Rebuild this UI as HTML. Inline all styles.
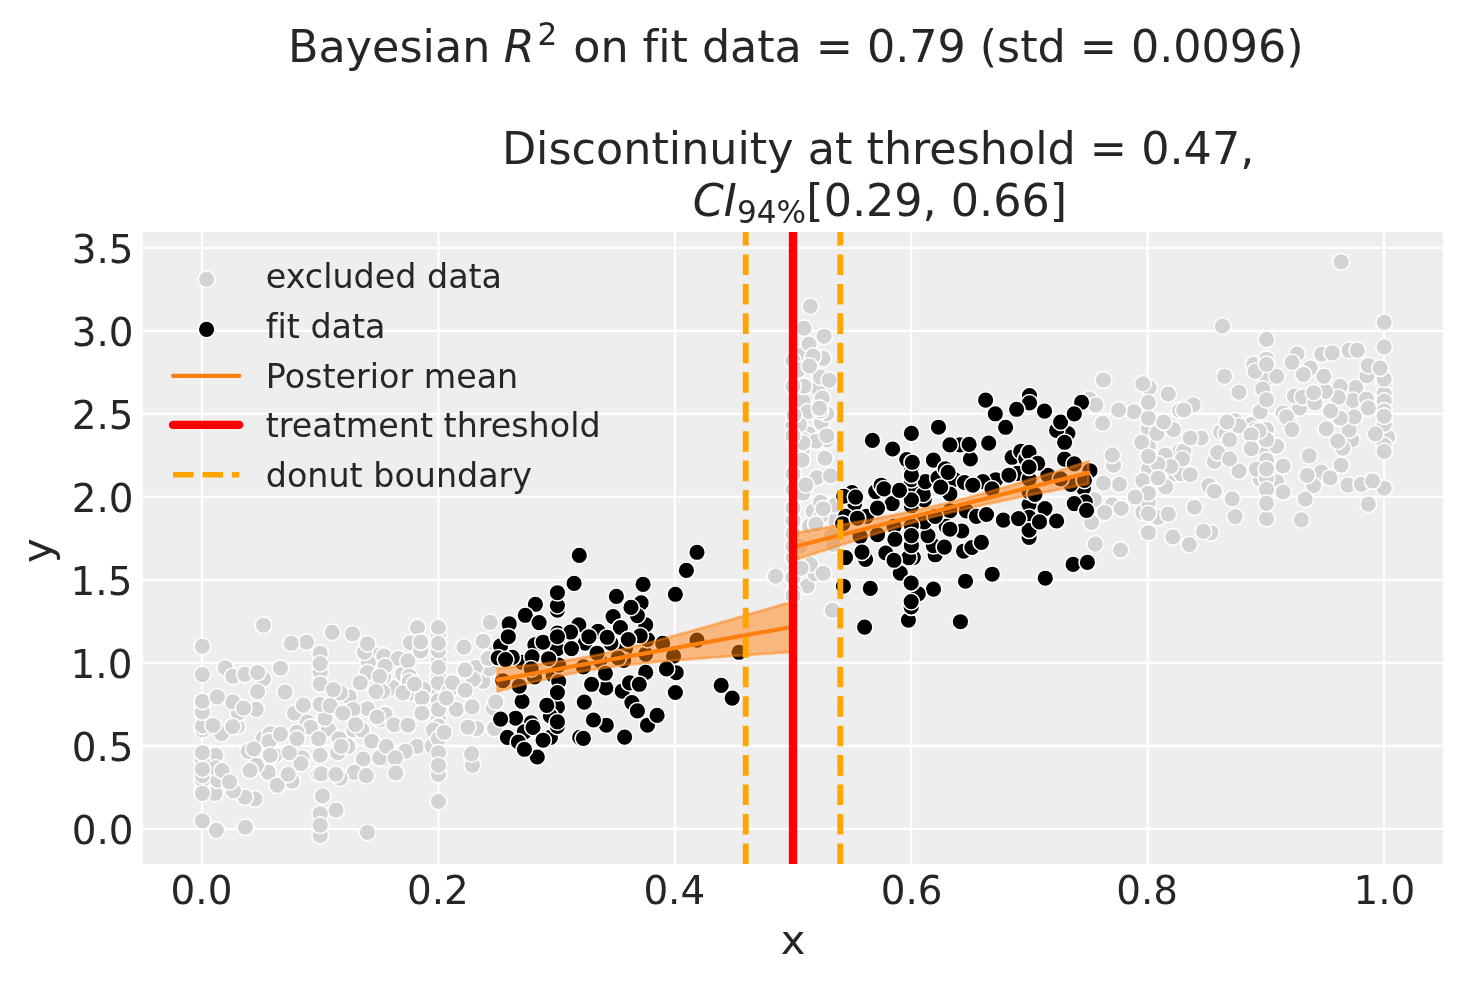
<!DOCTYPE html>
<html lang="en"><head><meta charset="utf-8"><title>Regression discontinuity (donut)</title>
<style>html,body{margin:0;padding:0;background:#fff}svg{display:block;will-change:transform}text{font-family:"DejaVu Sans","Liberation Sans",sans-serif;fill:#262626;font-variant-ligatures:none}.it{font-style:italic}.g circle{fill:#d3d3d3;stroke:#fff;stroke-width:1.58}.k circle{fill:#000;stroke:#fff;stroke-width:1.58}</style></head><body>
<svg width="1463" height="983" viewBox="0 0 1463 983">
<rect width="1463" height="983" fill="#fff"/>
<rect x="143" y="232" width="1300" height="632" fill="#eeeeee"/>
<defs><clipPath id="ax"><rect x="143" y="232" width="1300" height="632"/></clipPath></defs>
<g stroke="#fff" stroke-width="2.22" clip-path="url(#ax)">
<line x1="202.00" y1="232" x2="202.00" y2="864"/>
<line x1="438.40" y1="232" x2="438.40" y2="864"/>
<line x1="674.80" y1="232" x2="674.80" y2="864"/>
<line x1="911.20" y1="232" x2="911.20" y2="864"/>
<line x1="1147.60" y1="232" x2="1147.60" y2="864"/>
<line x1="1384.00" y1="232" x2="1384.00" y2="864"/>
<line x1="143" y1="828.80" x2="1443" y2="828.80"/>
<line x1="143" y1="745.80" x2="1443" y2="745.80"/>
<line x1="143" y1="662.80" x2="1443" y2="662.80"/>
<line x1="143" y1="579.80" x2="1443" y2="579.80"/>
<line x1="143" y1="496.80" x2="1443" y2="496.80"/>
<line x1="143" y1="413.80" x2="1443" y2="413.80"/>
<line x1="143" y1="330.80" x2="1443" y2="330.80"/>
<line x1="143" y1="247.80" x2="1443" y2="247.80"/>
</g>
<g clip-path="url(#ax)">
<g class="g"><circle cx="302.1" cy="757.8" r="8.36"/><circle cx="1355.6" cy="387.6" r="8.36"/><circle cx="815.9" cy="441.8" r="8.36"/><circle cx="835.1" cy="520.6" r="8.36"/><circle cx="337.8" cy="752.7" r="8.36"/><circle cx="1253.8" cy="364.3" r="8.36"/><circle cx="1239.0" cy="471.1" r="8.36"/><circle cx="1179.7" cy="410.5" r="8.36"/><circle cx="438.5" cy="676.3" r="8.36"/><circle cx="821.4" cy="422.3" r="8.36"/><circle cx="363.2" cy="759.0" r="8.36"/><circle cx="1266.5" cy="359.2" r="8.36"/><circle cx="300.9" cy="763.6" r="8.36"/><circle cx="1289.4" cy="423.3" r="8.36"/><circle cx="438.5" cy="691.6" r="8.36"/><circle cx="1224.5" cy="376.3" r="8.36"/><circle cx="472.4" cy="765.4" r="8.36"/><circle cx="1283.1" cy="413.1" r="8.36"/><circle cx="1193.2" cy="404.9" r="8.36"/><circle cx="320.2" cy="835.4" r="8.36"/><circle cx="1189.4" cy="544.6" r="8.36"/><circle cx="379.7" cy="654.7" r="8.36"/><circle cx="1384.2" cy="322.3" r="8.36"/><circle cx="402.9" cy="673.8" r="8.36"/><circle cx="322.5" cy="795.9" r="8.36"/><circle cx="392.7" cy="687.8" r="8.36"/><circle cx="248.2" cy="751.4" r="8.36"/><circle cx="1384.2" cy="384.0" r="8.36"/><circle cx="1384.2" cy="488.2" r="8.36"/><circle cx="368.3" cy="662.3" r="8.36"/><circle cx="320.2" cy="672.5" r="8.36"/><circle cx="793.0" cy="520.6" r="8.36"/><circle cx="1351.8" cy="439.8" r="8.36"/><circle cx="1387.6" cy="437.4" r="8.36"/><circle cx="364.5" cy="652.2" r="8.36"/><circle cx="793.0" cy="489.5" r="8.36"/><circle cx="483.1" cy="681.4" r="8.36"/><circle cx="1168.3" cy="394.0" r="8.36"/><circle cx="492.0" cy="648.3" r="8.36"/><circle cx="802.1" cy="450.3" r="8.36"/><circle cx="215.1" cy="793.4" r="8.36"/><circle cx="1353.0" cy="400.4" r="8.36"/><circle cx="775.6" cy="576.1" r="8.36"/><circle cx="793.0" cy="577.4" r="8.36"/><circle cx="263.5" cy="738.2" r="8.36"/><circle cx="328.3" cy="729.0" r="8.36"/><circle cx="383.8" cy="676.3" r="8.36"/><circle cx="1266.5" cy="378.3" r="8.36"/><circle cx="225.3" cy="667.9" r="8.36"/><circle cx="1148.4" cy="532.7" r="8.36"/><circle cx="438.5" cy="659.8" r="8.36"/><circle cx="820.4" cy="357.8" r="8.36"/><circle cx="382.5" cy="759.0" r="8.36"/><circle cx="471.6" cy="753.9" r="8.36"/><circle cx="1239.0" cy="392.2" r="8.36"/><circle cx="306.5" cy="642.2" r="8.36"/><circle cx="1384.2" cy="393.8" r="8.36"/><circle cx="483.1" cy="641.2" r="8.36"/><circle cx="1179.7" cy="451.2" r="8.36"/><circle cx="1326.3" cy="428.9" r="8.36"/><circle cx="336.0" cy="810.2" r="8.36"/><circle cx="1133.9" cy="411.8" r="8.36"/><circle cx="380.0" cy="719.6" r="8.36"/><circle cx="817.7" cy="388.1" r="8.36"/><circle cx="1366.5" cy="399.1" r="8.36"/><circle cx="245.4" cy="827.2" r="8.36"/><circle cx="826.8" cy="440.0" r="8.36"/><circle cx="1194.5" cy="507.2" r="8.36"/><circle cx="383.8" cy="656.0" r="8.36"/><circle cx="416.9" cy="746.3" r="8.36"/><circle cx="432.2" cy="746.3" r="8.36"/><circle cx="385.1" cy="714.5" r="8.36"/><circle cx="202.4" cy="790.3" r="8.36"/><circle cx="354.3" cy="772.3" r="8.36"/><circle cx="438.5" cy="718.3" r="8.36"/><circle cx="367.5" cy="672.5" r="8.36"/><circle cx="1266.5" cy="429.6" r="8.36"/><circle cx="813.1" cy="511.4" r="8.36"/><circle cx="1175.9" cy="474.1" r="8.36"/><circle cx="1220.7" cy="432.2" r="8.36"/><circle cx="793.0" cy="557.2" r="8.36"/><circle cx="1165.2" cy="455.1" r="8.36"/><circle cx="801.8" cy="354.7" r="8.36"/><circle cx="456.3" cy="709.4" r="8.36"/><circle cx="1251.2" cy="424.5" r="8.36"/><circle cx="339.0" cy="738.7" r="8.36"/><circle cx="1299.6" cy="408.0" r="8.36"/><circle cx="1367.0" cy="375.8" r="8.36"/><circle cx="1301.4" cy="519.9" r="8.36"/><circle cx="1266.5" cy="518.7" r="8.36"/><circle cx="255.1" cy="799.0" r="8.36"/><circle cx="202.4" cy="780.2" r="8.36"/><circle cx="394.0" cy="724.7" r="8.36"/><circle cx="1384.2" cy="401.2" r="8.36"/><circle cx="1266.5" cy="452.5" r="8.36"/><circle cx="438.5" cy="700.5" r="8.36"/><circle cx="831.4" cy="535.2" r="8.36"/><circle cx="318.7" cy="773.8" r="8.36"/><circle cx="1173.4" cy="429.6" r="8.36"/><circle cx="202.4" cy="674.6" r="8.36"/><circle cx="835.1" cy="505.0" r="8.36"/><circle cx="347.9" cy="746.3" r="8.36"/><circle cx="1214.4" cy="461.4" r="8.36"/><circle cx="803.0" cy="400.9" r="8.36"/><circle cx="274.7" cy="755.2" r="8.36"/><circle cx="807.3" cy="586.0" r="8.36"/><circle cx="438.5" cy="682.7" r="8.36"/><circle cx="1266.5" cy="460.2" r="8.36"/><circle cx="398.3" cy="658.5" r="8.36"/><circle cx="202.4" cy="820.9" r="8.36"/><circle cx="823.2" cy="358.4" r="8.36"/><circle cx="291.2" cy="643.3" r="8.36"/><circle cx="1349.2" cy="430.1" r="8.36"/><circle cx="367.5" cy="832.3" r="8.36"/><circle cx="1341.1" cy="465.2" r="8.36"/><circle cx="1384.2" cy="424.2" r="8.36"/><circle cx="1368.3" cy="504.2" r="8.36"/><circle cx="353.8" cy="729.8" r="8.36"/><circle cx="232.7" cy="676.3" r="8.36"/><circle cx="321.2" cy="773.8" r="8.36"/><circle cx="826.8" cy="413.7" r="8.36"/><circle cx="1225.8" cy="433.4" r="8.36"/><circle cx="379.7" cy="757.8" r="8.36"/><circle cx="793.9" cy="592.0" r="8.36"/><circle cx="1384.2" cy="445.3" r="8.36"/><circle cx="332.2" cy="632.3" r="8.36"/><circle cx="1148.4" cy="428.3" r="8.36"/><circle cx="1349.2" cy="350.3" r="8.36"/><circle cx="1234.7" cy="420.7" r="8.36"/><circle cx="1321.2" cy="472.1" r="8.36"/><circle cx="1294.5" cy="395.8" r="8.36"/><circle cx="1149.2" cy="387.6" r="8.36"/><circle cx="1342.8" cy="448.2" r="8.36"/><circle cx="803.0" cy="493.1" r="8.36"/><circle cx="438.5" cy="726.0" r="8.36"/><circle cx="1181.3" cy="473.6" r="8.36"/><circle cx="294.5" cy="713.2" r="8.36"/><circle cx="367.5" cy="708.7" r="8.36"/><circle cx="423.3" cy="689.1" r="8.36"/><circle cx="1354.3" cy="416.9" r="8.36"/><circle cx="1276.7" cy="376.3" r="8.36"/><circle cx="292.0" cy="781.2" r="8.36"/><circle cx="320.2" cy="684.0" r="8.36"/><circle cx="1309.3" cy="455.8" r="8.36"/><circle cx="1172.9" cy="537.0" r="8.36"/><circle cx="325.0" cy="718.3" r="8.36"/><circle cx="382.5" cy="691.6" r="8.36"/><circle cx="807.6" cy="411.9" r="8.36"/><circle cx="366.3" cy="775.6" r="8.36"/><circle cx="1095.3" cy="544.1" r="8.36"/><circle cx="808.5" cy="433.8" r="8.36"/><circle cx="438.5" cy="709.4" r="8.36"/><circle cx="1165.8" cy="486.9" r="8.36"/><circle cx="1148.4" cy="446.2" r="8.36"/><circle cx="803.0" cy="439.3" r="8.36"/><circle cx="804.0" cy="386.2" r="8.36"/><circle cx="1276.7" cy="446.2" r="8.36"/><circle cx="237.3" cy="726.5" r="8.36"/><circle cx="408.0" cy="725.2" r="8.36"/><circle cx="809.1" cy="344.1" r="8.36"/><circle cx="814.9" cy="573.7" r="8.36"/><circle cx="361.9" cy="729.8" r="8.36"/><circle cx="1239.0" cy="425.8" r="8.36"/><circle cx="810.4" cy="306.2" r="8.36"/><circle cx="268.3" cy="772.3" r="8.36"/><circle cx="1357.4" cy="350.3" r="8.36"/><circle cx="816.8" cy="477.5" r="8.36"/><circle cx="793.0" cy="473.9" r="8.36"/><circle cx="1340.3" cy="386.4" r="8.36"/><circle cx="1089.4" cy="399.1" r="8.36"/><circle cx="490.2" cy="622.4" r="8.36"/><circle cx="215.6" cy="755.2" r="8.36"/><circle cx="433.4" cy="729.8" r="8.36"/><circle cx="320.2" cy="653.4" r="8.36"/><circle cx="1276.7" cy="481.8" r="8.36"/><circle cx="1340.3" cy="418.2" r="8.36"/><circle cx="804.0" cy="328.2" r="8.36"/><circle cx="307.2" cy="722.1" r="8.36"/><circle cx="221.5" cy="733.6" r="8.36"/><circle cx="277.2" cy="785.2" r="8.36"/><circle cx="270.3" cy="733.6" r="8.36"/><circle cx="1260.2" cy="479.2" r="8.36"/><circle cx="448.7" cy="691.6" r="8.36"/><circle cx="1148.4" cy="418.2" r="8.36"/><circle cx="1095.8" cy="404.9" r="8.36"/><circle cx="1255.1" cy="429.6" r="8.36"/><circle cx="438.5" cy="650.9" r="8.36"/><circle cx="1338.3" cy="397.3" r="8.36"/><circle cx="438.5" cy="667.4" r="8.36"/><circle cx="202.4" cy="729.8" r="8.36"/><circle cx="217.7" cy="780.2" r="8.36"/><circle cx="1227.1" cy="422.0" r="8.36"/><circle cx="1321.7" cy="354.1" r="8.36"/><circle cx="822.3" cy="398.1" r="8.36"/><circle cx="1142.8" cy="512.3" r="8.36"/><circle cx="438.5" cy="738.7" r="8.36"/><circle cx="1211.0" cy="532.7" r="8.36"/><circle cx="493.2" cy="708.1" r="8.36"/><circle cx="289.4" cy="752.7" r="8.36"/><circle cx="793.0" cy="386.2" r="8.36"/><circle cx="1330.1" cy="478.0" r="8.36"/><circle cx="793.0" cy="507.8" r="8.36"/><circle cx="489.4" cy="668.7" r="8.36"/><circle cx="476.7" cy="728.5" r="8.36"/><circle cx="1266.5" cy="439.8" r="8.36"/><circle cx="1217.7" cy="452.5" r="8.36"/><circle cx="385.1" cy="666.2" r="8.36"/><circle cx="1208.8" cy="485.6" r="8.36"/><circle cx="367.5" cy="643.8" r="8.36"/><circle cx="408.0" cy="661.1" r="8.36"/><circle cx="1091.5" cy="522.5" r="8.36"/><circle cx="1183.8" cy="410.0" r="8.36"/><circle cx="1368.3" cy="365.6" r="8.36"/><circle cx="269.1" cy="741.2" r="8.36"/><circle cx="1256.3" cy="469.1" r="8.36"/><circle cx="1120.5" cy="550.0" r="8.36"/><circle cx="438.5" cy="801.5" r="8.36"/><circle cx="793.0" cy="546.2" r="8.36"/><circle cx="202.4" cy="706.9" r="8.36"/><circle cx="379.7" cy="676.3" r="8.36"/><circle cx="202.4" cy="760.3" r="8.36"/><circle cx="1310.3" cy="368.1" r="8.36"/><circle cx="410.5" cy="642.7" r="8.36"/><circle cx="1347.9" cy="485.1" r="8.36"/><circle cx="1183.8" cy="451.2" r="8.36"/><circle cx="1255.1" cy="371.4" r="8.36"/><circle cx="1384.2" cy="411.0" r="8.36"/><circle cx="1384.2" cy="346.9" r="8.36"/><circle cx="438.5" cy="635.6" r="8.36"/><circle cx="809.5" cy="526.1" r="8.36"/><circle cx="411.8" cy="692.9" r="8.36"/><circle cx="256.3" cy="765.4" r="8.36"/><circle cx="1148.4" cy="402.4" r="8.36"/><circle cx="472.1" cy="706.9" r="8.36"/><circle cx="832.3" cy="610.3" r="8.36"/><circle cx="1313.6" cy="485.6" r="8.36"/><circle cx="820.4" cy="516.9" r="8.36"/><circle cx="1258.9" cy="430.9" r="8.36"/><circle cx="815.9" cy="441.2" r="8.36"/><circle cx="244.9" cy="674.3" r="8.36"/><circle cx="1266.5" cy="478.0" r="8.36"/><circle cx="1232.2" cy="498.8" r="8.36"/><circle cx="1141.6" cy="442.3" r="8.36"/><circle cx="1325.5" cy="391.5" r="8.36"/><circle cx="1341.1" cy="261.8" r="8.36"/><circle cx="475.4" cy="667.4" r="8.36"/><circle cx="256.3" cy="709.4" r="8.36"/><circle cx="1260.2" cy="411.8" r="8.36"/><circle cx="263.5" cy="625.2" r="8.36"/><circle cx="285.1" cy="692.1" r="8.36"/><circle cx="280.5" cy="668.2" r="8.36"/><circle cx="1337.8" cy="441.1" r="8.36"/><circle cx="250.0" cy="770.5" r="8.36"/><circle cx="349.2" cy="696.9" r="8.36"/><circle cx="1148.4" cy="502.1" r="8.36"/><circle cx="803.0" cy="442.7" r="8.36"/><circle cx="244.9" cy="797.2" r="8.36"/><circle cx="303.4" cy="705.1" r="8.36"/><circle cx="340.3" cy="778.1" r="8.36"/><circle cx="1332.2" cy="352.9" r="8.36"/><circle cx="1361.2" cy="484.3" r="8.36"/><circle cx="793.0" cy="533.4" r="8.36"/><circle cx="310.5" cy="727.2" r="8.36"/><circle cx="793.0" cy="360.6" r="8.36"/><circle cx="820.4" cy="377.1" r="8.36"/><circle cx="1158.1" cy="517.4" r="8.36"/><circle cx="1148.4" cy="513.6" r="8.36"/><circle cx="1372.6" cy="481.0" r="8.36"/><circle cx="340.3" cy="692.9" r="8.36"/><circle cx="1142.8" cy="383.8" r="8.36"/><circle cx="318.7" cy="738.7" r="8.36"/><circle cx="495.8" cy="701.8" r="8.36"/><circle cx="438.5" cy="774.3" r="8.36"/><circle cx="1251.2" cy="434.7" r="8.36"/><circle cx="270.3" cy="755.2" r="8.36"/><circle cx="352.5" cy="633.8" r="8.36"/><circle cx="452.5" cy="682.7" r="8.36"/><circle cx="488.1" cy="658.5" r="8.36"/><circle cx="288.1" cy="774.3" r="8.36"/><circle cx="833.3" cy="544.4" r="8.36"/><circle cx="202.4" cy="646.3" r="8.36"/><circle cx="438.5" cy="627.5" r="8.36"/><circle cx="1148.4" cy="469.6" r="8.36"/><circle cx="1283.1" cy="492.0" r="8.36"/><circle cx="202.4" cy="775.6" r="8.36"/><circle cx="238.5" cy="712.7" r="8.36"/><circle cx="1229.6" cy="439.8" r="8.36"/><circle cx="417.4" cy="627.5" r="8.36"/><circle cx="824.1" cy="336.2" r="8.36"/><circle cx="438.5" cy="752.7" r="8.36"/><circle cx="820.4" cy="411.0" r="8.36"/><circle cx="1302.6" cy="397.0" r="8.36"/><circle cx="1286.4" cy="416.9" r="8.36"/><circle cx="826.8" cy="435.7" r="8.36"/><circle cx="202.4" cy="752.7" r="8.36"/><circle cx="409.3" cy="676.3" r="8.36"/><circle cx="1113.6" cy="465.2" r="8.36"/><circle cx="829.2" cy="380.2" r="8.36"/><circle cx="1266.5" cy="489.4" r="8.36"/><circle cx="215.6" cy="767.9" r="8.36"/><circle cx="1375.4" cy="433.9" r="8.36"/><circle cx="1330.6" cy="411.0" r="8.36"/><circle cx="812.2" cy="358.4" r="8.36"/><circle cx="1222.5" cy="326.1" r="8.36"/><circle cx="464.0" cy="647.1" r="8.36"/><circle cx="371.6" cy="741.2" r="8.36"/><circle cx="1266.5" cy="469.1" r="8.36"/><circle cx="320.2" cy="813.7" r="8.36"/><circle cx="1307.2" cy="475.4" r="8.36"/><circle cx="810.4" cy="564.5" r="8.36"/><circle cx="297.0" cy="732.3" r="8.36"/><circle cx="222.0" cy="770.5" r="8.36"/><circle cx="405.4" cy="751.4" r="8.36"/><circle cx="820.4" cy="502.3" r="8.36"/><circle cx="320.2" cy="663.6" r="8.36"/><circle cx="494.5" cy="728.5" r="8.36"/><circle cx="813.1" cy="356.0" r="8.36"/><circle cx="473.6" cy="679.4" r="8.36"/><circle cx="825.0" cy="458.3" r="8.36"/><circle cx="1297.0" cy="354.1" r="8.36"/><circle cx="465.2" cy="690.3" r="8.36"/><circle cx="1292.0" cy="362.3" r="8.36"/><circle cx="320.2" cy="704.3" r="8.36"/><circle cx="815.9" cy="524.2" r="8.36"/><circle cx="465.2" cy="670.0" r="8.36"/><circle cx="202.4" cy="726.0" r="8.36"/><circle cx="1303.4" cy="374.5" r="8.36"/><circle cx="805.8" cy="484.9" r="8.36"/><circle cx="1112.3" cy="504.7" r="8.36"/><circle cx="1283.1" cy="466.0" r="8.36"/><circle cx="1168.3" cy="514.1" r="8.36"/><circle cx="386.4" cy="746.3" r="8.36"/><circle cx="444.1" cy="732.3" r="8.36"/><circle cx="1190.2" cy="474.7" r="8.36"/><circle cx="1119.4" cy="484.3" r="8.36"/><circle cx="1203.4" cy="531.4" r="8.36"/><circle cx="353.0" cy="709.4" r="8.36"/><circle cx="263.5" cy="678.9" r="8.36"/><circle cx="819.5" cy="408.2" r="8.36"/><circle cx="800.3" cy="546.2" r="8.36"/><circle cx="1384.2" cy="451.4" r="8.36"/><circle cx="1201.1" cy="438.0" r="8.36"/><circle cx="202.4" cy="769.2" r="8.36"/><circle cx="1235.2" cy="516.6" r="8.36"/><circle cx="1103.4" cy="380.0" r="8.36"/><circle cx="1266.5" cy="503.4" r="8.36"/><circle cx="1384.2" cy="416.2" r="8.36"/><circle cx="1262.7" cy="388.9" r="8.36"/><circle cx="409.3" cy="681.4" r="8.36"/><circle cx="802.1" cy="460.1" r="8.36"/><circle cx="467.8" cy="727.2" r="8.36"/><circle cx="801.2" cy="568.2" r="8.36"/><circle cx="1118.7" cy="410.0" r="8.36"/><circle cx="1229.6" cy="458.9" r="8.36"/><circle cx="1094.5" cy="499.6" r="8.36"/><circle cx="202.4" cy="712.0" r="8.36"/><circle cx="438.5" cy="643.3" r="8.36"/><circle cx="1214.4" cy="491.2" r="8.36"/><circle cx="420.7" cy="650.9" r="8.36"/><circle cx="402.9" cy="692.9" r="8.36"/><circle cx="395.3" cy="757.8" r="8.36"/><circle cx="830.5" cy="475.7" r="8.36"/><circle cx="1266.5" cy="339.4" r="8.36"/><circle cx="823.2" cy="508.7" r="8.36"/><circle cx="422.0" cy="698.0" r="8.36"/><circle cx="793.0" cy="425.6" r="8.36"/><circle cx="1102.6" cy="423.3" r="8.36"/><circle cx="1251.2" cy="448.7" r="8.36"/><circle cx="823.2" cy="573.2" r="8.36"/><circle cx="233.4" cy="790.8" r="8.36"/><circle cx="1266.5" cy="399.8" r="8.36"/><circle cx="1266.5" cy="364.3" r="8.36"/><circle cx="1142.8" cy="480.5" r="8.36"/><circle cx="232.7" cy="701.8" r="8.36"/><circle cx="1182.5" cy="458.9" r="8.36"/><circle cx="1112.3" cy="455.1" r="8.36"/><circle cx="232.7" cy="726.5" r="8.36"/><circle cx="395.8" cy="773.0" r="8.36"/><circle cx="336.0" cy="774.3" r="8.36"/><circle cx="1368.3" cy="408.0" r="8.36"/><circle cx="1305.2" cy="499.1" r="8.36"/><circle cx="1121.2" cy="508.5" r="8.36"/><circle cx="355.6" cy="724.7" r="8.36"/><circle cx="229.6" cy="781.9" r="8.36"/><circle cx="1190.2" cy="438.0" r="8.36"/><circle cx="1170.8" cy="466.5" r="8.36"/><circle cx="446.2" cy="698.0" r="8.36"/><circle cx="1103.4" cy="483.1" r="8.36"/><circle cx="280.5" cy="734.1" r="8.36"/><circle cx="1156.8" cy="433.4" r="8.36"/><circle cx="253.8" cy="748.9" r="8.36"/><circle cx="1323.8" cy="376.3" r="8.36"/><circle cx="414.4" cy="684.0" r="8.36"/><circle cx="341.1" cy="746.3" r="8.36"/><circle cx="1158.1" cy="464.0" r="8.36"/><circle cx="360.2" cy="682.7" r="8.36"/><circle cx="320.2" cy="825.2" r="8.36"/><circle cx="257.6" cy="691.6" r="8.36"/><circle cx="798.5" cy="369.7" r="8.36"/><circle cx="1148.4" cy="493.2" r="8.36"/><circle cx="1104.7" cy="512.3" r="8.36"/><circle cx="202.4" cy="701.3" r="8.36"/><circle cx="1384.2" cy="379.2" r="8.36"/><circle cx="1314.9" cy="402.9" r="8.36"/><circle cx="1313.6" cy="392.7" r="8.36"/><circle cx="216.4" cy="830.3" r="8.36"/><circle cx="297.0" cy="738.7" r="8.36"/><circle cx="1158.1" cy="478.0" r="8.36"/><circle cx="217.4" cy="696.9" r="8.36"/><circle cx="799.4" cy="424.7" r="8.36"/><circle cx="1148.4" cy="456.3" r="8.36"/><circle cx="377.2" cy="717.0" r="8.36"/><circle cx="420.7" cy="642.0" r="8.36"/><circle cx="330.1" cy="705.6" r="8.36"/><circle cx="793.9" cy="415.2" r="8.36"/><circle cx="793.0" cy="435.7" r="8.36"/><circle cx="342.8" cy="713.2" r="8.36"/><circle cx="257.6" cy="672.5" r="8.36"/><circle cx="202.4" cy="793.4" r="8.36"/><circle cx="793.0" cy="595.7" r="8.36"/><circle cx="375.9" cy="691.6" r="8.36"/><circle cx="1135.2" cy="497.0" r="8.36"/><circle cx="438.5" cy="765.4" r="8.36"/><circle cx="213.1" cy="725.4" r="8.36"/><circle cx="1163.7" cy="422.0" r="8.36"/><circle cx="1380.2" cy="368.1" r="8.36"/><circle cx="243.6" cy="708.1" r="8.36"/><circle cx="333.4" cy="689.6" r="8.36"/><circle cx="1292.0" cy="429.6" r="8.36"/><circle cx="809.5" cy="366.1" r="8.36"/><circle cx="320.2" cy="755.2" r="8.36"/><circle cx="422.0" cy="713.2" r="8.36"/></g>
<g class="k"><circle cx="645.7" cy="654.1" r="8.36"/><circle cx="885.8" cy="553.0" r="8.36"/><circle cx="534.5" cy="677.0" r="8.36"/><circle cx="553.2" cy="675.2" r="8.36"/><circle cx="872.4" cy="440.4" r="8.36"/><circle cx="531.2" cy="722.8" r="8.36"/><circle cx="515.6" cy="718.2" r="8.36"/><circle cx="534.9" cy="644.9" r="8.36"/><circle cx="995.3" cy="413.8" r="8.36"/><circle cx="1083.5" cy="488.1" r="8.36"/><circle cx="599.9" cy="660.5" r="8.36"/><circle cx="1029.1" cy="504.5" r="8.36"/><circle cx="557.4" cy="643.1" r="8.36"/><circle cx="949.9" cy="510.9" r="8.36"/><circle cx="911.4" cy="488.9" r="8.36"/><circle cx="911.4" cy="505.8" r="8.36"/><circle cx="558.7" cy="681.6" r="8.36"/><circle cx="1012.1" cy="457.3" r="8.36"/><circle cx="935.2" cy="554.8" r="8.36"/><circle cx="924.2" cy="499.9" r="8.36"/><circle cx="1044.5" cy="411.1" r="8.36"/><circle cx="625.5" cy="648.6" r="8.36"/><circle cx="995.7" cy="479.7" r="8.36"/><circle cx="522.1" cy="662.3" r="8.36"/><circle cx="532.1" cy="656.8" r="8.36"/><circle cx="507.4" cy="737.4" r="8.36"/><circle cx="933.4" cy="545.7" r="8.36"/><circle cx="613.1" cy="616.6" r="8.36"/><circle cx="875.7" cy="491.6" r="8.36"/><circle cx="927.9" cy="535.6" r="8.36"/><circle cx="500.6" cy="645.9" r="8.36"/><circle cx="512.3" cy="657.4" r="8.36"/><circle cx="550.4" cy="737.4" r="8.36"/><circle cx="1067.9" cy="433.5" r="8.36"/><circle cx="923.3" cy="494.4" r="8.36"/><circle cx="1085.3" cy="501.8" r="8.36"/><circle cx="966.4" cy="510.9" r="8.36"/><circle cx="908.4" cy="620.1" r="8.36"/><circle cx="870.3" cy="588.4" r="8.36"/><circle cx="1056.6" cy="521.0" r="8.36"/><circle cx="605.8" cy="688.0" r="8.36"/><circle cx="598.1" cy="631.2" r="8.36"/><circle cx="851.9" cy="492.6" r="8.36"/><circle cx="881.2" cy="485.2" r="8.36"/><circle cx="673.6" cy="656.1" r="8.36"/><circle cx="1089.9" cy="470.7" r="8.36"/><circle cx="524.4" cy="731.9" r="8.36"/><circle cx="579.7" cy="737.4" r="8.36"/><circle cx="537.3" cy="757.0" r="8.36"/><circle cx="605.4" cy="673.3" r="8.36"/><circle cx="1070.7" cy="484.4" r="8.36"/><circle cx="533.0" cy="727.4" r="8.36"/><circle cx="647.5" cy="639.5" r="8.36"/><circle cx="623.7" cy="660.5" r="8.36"/><circle cx="1081.6" cy="402.3" r="8.36"/><circle cx="1056.6" cy="430.4" r="8.36"/><circle cx="1064.6" cy="459.1" r="8.36"/><circle cx="963.6" cy="551.2" r="8.36"/><circle cx="578.8" cy="624.8" r="8.36"/><circle cx="992.2" cy="574.2" r="8.36"/><circle cx="944.4" cy="547.1" r="8.36"/><circle cx="697.0" cy="640.1" r="8.36"/><circle cx="854.7" cy="503.6" r="8.36"/><circle cx="911.4" cy="479.7" r="8.36"/><circle cx="1029.1" cy="491.7" r="8.36"/><circle cx="606.3" cy="725.2" r="8.36"/><circle cx="1029.5" cy="395.6" r="8.36"/><circle cx="1074.3" cy="503.6" r="8.36"/><circle cx="535.4" cy="604.3" r="8.36"/><circle cx="1029.1" cy="517.4" r="8.36"/><circle cx="500.6" cy="719.1" r="8.36"/><circle cx="620.4" cy="627.5" r="8.36"/><circle cx="557.4" cy="633.0" r="8.36"/><circle cx="557.4" cy="610.1" r="8.36"/><circle cx="960.0" cy="444.9" r="8.36"/><circle cx="543.1" cy="740.2" r="8.36"/><circle cx="946.2" cy="526.4" r="8.36"/><circle cx="938.5" cy="427.2" r="8.36"/><circle cx="1020.7" cy="451.4" r="8.36"/><circle cx="933.4" cy="460.1" r="8.36"/><circle cx="1087.3" cy="563.3" r="8.36"/><circle cx="971.9" cy="547.5" r="8.36"/><circle cx="845.5" cy="516.4" r="8.36"/><circle cx="622.2" cy="691.1" r="8.36"/><circle cx="864.6" cy="627.1" r="8.36"/><circle cx="584.3" cy="702.1" r="8.36"/><circle cx="583.4" cy="738.4" r="8.36"/><circle cx="645.7" cy="624.8" r="8.36"/><circle cx="557.4" cy="726.4" r="8.36"/><circle cx="1034.9" cy="494.5" r="8.36"/><circle cx="1060.6" cy="422.1" r="8.36"/><circle cx="676.2" cy="672.7" r="8.36"/><circle cx="518.4" cy="742.0" r="8.36"/><circle cx="1025.8" cy="458.8" r="8.36"/><circle cx="954.5" cy="479.7" r="8.36"/><circle cx="610.9" cy="643.1" r="8.36"/><circle cx="557.4" cy="648.6" r="8.36"/><circle cx="557.4" cy="707.2" r="8.36"/><circle cx="1029.1" cy="537.5" r="8.36"/><circle cx="913.3" cy="557.6" r="8.36"/><circle cx="982.9" cy="481.6" r="8.36"/><circle cx="640.2" cy="635.8" r="8.36"/><circle cx="900.3" cy="573.1" r="8.36"/><circle cx="933.5" cy="589.1" r="8.36"/><circle cx="675.4" cy="594.3" r="8.36"/><circle cx="675.4" cy="692.5" r="8.36"/><circle cx="908.7" cy="557.6" r="8.36"/><circle cx="964.5" cy="482.5" r="8.36"/><circle cx="965.5" cy="581.2" r="8.36"/><circle cx="892.6" cy="449.0" r="8.36"/><circle cx="925.2" cy="481.6" r="8.36"/><circle cx="1086.6" cy="510.4" r="8.36"/><circle cx="641.1" cy="602.8" r="8.36"/><circle cx="888.5" cy="491.1" r="8.36"/><circle cx="988.7" cy="443.1" r="8.36"/><circle cx="585.2" cy="643.1" r="8.36"/><circle cx="1029.5" cy="402.9" r="8.36"/><circle cx="877.5" cy="534.7" r="8.36"/><circle cx="949.9" cy="444.9" r="8.36"/><circle cx="843.7" cy="496.2" r="8.36"/><circle cx="924.2" cy="521.9" r="8.36"/><circle cx="1016.6" cy="409.3" r="8.36"/><circle cx="976.4" cy="516.4" r="8.36"/><circle cx="911.4" cy="499.9" r="8.36"/><circle cx="732.2" cy="698.1" r="8.36"/><circle cx="498.2" cy="657.8" r="8.36"/><circle cx="629.6" cy="682.9" r="8.36"/><circle cx="1047.8" cy="475.2" r="8.36"/><circle cx="570.6" cy="632.1" r="8.36"/><circle cx="981.4" cy="542.4" r="8.36"/><circle cx="911.2" cy="607.0" r="8.36"/><circle cx="1029.1" cy="452.3" r="8.36"/><circle cx="543.1" cy="642.2" r="8.36"/><circle cx="938.0" cy="477.9" r="8.36"/><circle cx="1073.1" cy="564.4" r="8.36"/><circle cx="1037.7" cy="463.3" r="8.36"/><circle cx="697.0" cy="552.3" r="8.36"/><circle cx="616.4" cy="596.4" r="8.36"/><circle cx="558.7" cy="665.1" r="8.36"/><circle cx="588.9" cy="636.7" r="8.36"/><circle cx="637.4" cy="615.6" r="8.36"/><circle cx="845.5" cy="557.6" r="8.36"/><circle cx="1074.3" cy="463.9" r="8.36"/><circle cx="631.9" cy="702.6" r="8.36"/><circle cx="550.4" cy="716.0" r="8.36"/><circle cx="509.2" cy="623.9" r="8.36"/><circle cx="637.4" cy="710.9" r="8.36"/><circle cx="618.2" cy="657.8" r="8.36"/><circle cx="1074.3" cy="413.9" r="8.36"/><circle cx="1017.5" cy="473.4" r="8.36"/><circle cx="557.4" cy="605.6" r="8.36"/><circle cx="911.4" cy="433.4" r="8.36"/><circle cx="1084.4" cy="480.4" r="8.36"/><circle cx="593.5" cy="720.0" r="8.36"/><circle cx="911.4" cy="470.6" r="8.36"/><circle cx="721.2" cy="685.4" r="8.36"/><circle cx="597.1" cy="653.2" r="8.36"/><circle cx="628.3" cy="639.5" r="8.36"/><circle cx="579.3" cy="555.4" r="8.36"/><circle cx="643.1" cy="584.4" r="8.36"/><circle cx="865.6" cy="559.4" r="8.36"/><circle cx="647.5" cy="725.2" r="8.36"/><circle cx="557.4" cy="692.6" r="8.36"/><circle cx="894.0" cy="526.4" r="8.36"/><circle cx="524.4" cy="749.3" r="8.36"/><circle cx="631.0" cy="607.4" r="8.36"/><circle cx="892.2" cy="503.6" r="8.36"/><circle cx="557.4" cy="592.7" r="8.36"/><circle cx="1064.6" cy="442.3" r="8.36"/><circle cx="645.7" cy="672.4" r="8.36"/><circle cx="843.4" cy="586.2" r="8.36"/><circle cx="502.8" cy="680.7" r="8.36"/><circle cx="557.4" cy="721.9" r="8.36"/><circle cx="583.4" cy="666.9" r="8.36"/><circle cx="894.0" cy="560.3" r="8.36"/><circle cx="855.6" cy="497.1" r="8.36"/><circle cx="985.6" cy="400.1" r="8.36"/><circle cx="591.6" cy="684.3" r="8.36"/><circle cx="1045.0" cy="508.6" r="8.36"/><circle cx="970.4" cy="459.0" r="8.36"/><circle cx="525.3" cy="615.3" r="8.36"/><circle cx="911.4" cy="545.7" r="8.36"/><circle cx="574.1" cy="583.4" r="8.36"/><circle cx="972.8" cy="485.2" r="8.36"/><circle cx="522.1" cy="701.4" r="8.36"/><circle cx="860.1" cy="536.5" r="8.36"/><circle cx="519.3" cy="686.2" r="8.36"/><circle cx="992.0" cy="488.9" r="8.36"/><circle cx="505.6" cy="659.6" r="8.36"/><circle cx="866.6" cy="516.4" r="8.36"/><circle cx="969.1" cy="444.4" r="8.36"/><circle cx="639.3" cy="684.3" r="8.36"/><circle cx="945.3" cy="468.8" r="8.36"/><circle cx="662.7" cy="643.4" r="8.36"/><circle cx="935.2" cy="516.4" r="8.36"/><circle cx="531.2" cy="668.8" r="8.36"/><circle cx="918.2" cy="593.9" r="8.36"/><circle cx="739.0" cy="652.3" r="8.36"/><circle cx="657.1" cy="715.4" r="8.36"/><circle cx="1087.4" cy="562.4" r="8.36"/><circle cx="884.0" cy="488.9" r="8.36"/><circle cx="686.4" cy="570.4" r="8.36"/><circle cx="911.4" cy="525.5" r="8.36"/><circle cx="557.4" cy="636.7" r="8.36"/><circle cx="894.9" cy="539.3" r="8.36"/><circle cx="1029.1" cy="530.2" r="8.36"/><circle cx="1005.6" cy="427.3" r="8.36"/><circle cx="911.4" cy="535.6" r="8.36"/><circle cx="1045.3" cy="578.2" r="8.36"/><circle cx="624.6" cy="737.1" r="8.36"/><circle cx="842.7" cy="523.7" r="8.36"/><circle cx="666.5" cy="668.9" r="8.36"/><circle cx="961.8" cy="531.0" r="8.36"/><circle cx="862.0" cy="552.1" r="8.36"/><circle cx="1060.6" cy="478.9" r="8.36"/><circle cx="899.5" cy="490.4" r="8.36"/><circle cx="539.1" cy="622.6" r="8.36"/><circle cx="607.2" cy="637.3" r="8.36"/><circle cx="546.8" cy="705.4" r="8.36"/><circle cx="906.8" cy="459.6" r="8.36"/><circle cx="508.3" cy="636.7" r="8.36"/><circle cx="911.2" cy="583.0" r="8.36"/><circle cx="1008.9" cy="475.2" r="8.36"/><circle cx="986.5" cy="514.5" r="8.36"/><circle cx="949.9" cy="529.2" r="8.36"/><circle cx="911.4" cy="475.2" r="8.36"/><circle cx="949.9" cy="494.0" r="8.36"/><circle cx="1029.1" cy="478.9" r="8.36"/><circle cx="548.6" cy="658.7" r="8.36"/><circle cx="571.5" cy="648.6" r="8.36"/><circle cx="857.4" cy="518.2" r="8.36"/><circle cx="1003.4" cy="520.1" r="8.36"/><circle cx="940.7" cy="487.1" r="8.36"/><circle cx="960.4" cy="621.7" r="8.36"/><circle cx="948.1" cy="472.4" r="8.36"/><circle cx="1029.1" cy="467.0" r="8.36"/><circle cx="911.2" cy="601.6" r="8.36"/><circle cx="1018.5" cy="518.6" r="8.36"/><circle cx="877.5" cy="508.1" r="8.36"/><circle cx="1039.5" cy="521.9" r="8.36"/><circle cx="912.3" cy="462.3" r="8.36"/></g>
<path d="M497.5 679.9 L793 626.7" stroke="#ff7f0e" stroke-width="4.17" stroke-linecap="round" fill="none"/>
<path d="M497.5 668.4 L502.4 667.9 L507.4 667.4 L512.3 667.0 L517.2 666.5 L522.1 665.9 L527.0 665.4 L532.0 664.9 L536.9 664.3 L541.8 663.7 L546.8 663.1 L551.7 662.4 L556.6 661.8 L561.5 661.1 L566.5 660.3 L571.4 659.6 L576.3 658.8 L581.2 657.9 L586.1 657.0 L591.1 656.1 L596.0 655.2 L600.9 654.2 L605.9 653.1 L610.8 652.0 L615.7 650.9 L620.6 649.7 L625.5 648.6 L630.5 647.4 L635.4 646.1 L640.3 644.9 L645.2 643.6 L650.2 642.3 L655.1 641.0 L660.0 639.6 L665.0 638.3 L669.9 637.0 L674.8 635.6 L679.7 634.2 L684.6 632.9 L689.6 631.5 L694.5 630.1 L699.4 628.7 L704.4 627.3 L709.3 625.9 L714.2 624.4 L719.1 623.0 L724.0 621.6 L729.0 620.2 L733.9 618.7 L738.8 617.3 L743.8 615.9 L748.7 614.4 L753.6 613.0 L758.5 611.6 L763.5 610.1 L768.4 608.7 L773.3 607.2 L778.2 605.8 L783.1 604.3 L788.1 602.9 L793.0 601.4 L793.0 652.0 L788.1 652.3 L783.1 652.6 L778.2 652.9 L773.3 653.3 L768.4 653.6 L763.5 653.9 L758.5 654.2 L753.6 654.6 L748.7 654.9 L743.8 655.2 L738.8 655.6 L733.9 655.9 L729.0 656.3 L724.0 656.6 L719.1 657.0 L714.2 657.3 L709.3 657.7 L704.4 658.1 L699.4 658.4 L694.5 658.8 L689.6 659.2 L684.6 659.6 L679.7 660.0 L674.8 660.4 L669.9 660.8 L665.0 661.2 L660.0 661.6 L655.1 662.1 L650.2 662.5 L645.2 663.0 L640.3 663.5 L635.4 664.0 L630.5 664.6 L625.5 665.1 L620.6 665.7 L615.7 666.3 L610.8 667.0 L605.9 667.7 L600.9 668.4 L596.0 669.2 L591.1 670.0 L586.1 670.8 L581.2 671.7 L576.3 672.7 L571.4 673.6 L566.5 674.6 L561.5 675.7 L556.6 676.8 L551.7 677.9 L546.8 679.0 L541.8 680.2 L536.9 681.3 L532.0 682.5 L527.0 683.8 L522.1 685.0 L517.2 686.3 L512.3 687.5 L507.4 688.8 L502.4 690.1 L497.5 691.4Z" fill="#ff7f0e" fill-opacity="0.5" stroke="#ff7f0e" stroke-opacity="0.5" stroke-width="2.6" stroke-linejoin="round"/>
<path d="M793 547 L1088.5 472.7" stroke="#ff7f0e" stroke-width="4.17" stroke-linecap="round" fill="none"/>
<path d="M793.0 533.3 L797.9 532.4 L802.9 531.6 L807.8 530.7 L812.7 529.9 L817.6 529.0 L822.5 528.2 L827.5 527.3 L832.4 526.4 L837.3 525.5 L842.2 524.7 L847.2 523.8 L852.1 522.9 L857.0 522.0 L862.0 521.1 L866.9 520.2 L871.8 519.3 L876.7 518.3 L881.6 517.4 L886.6 516.4 L891.5 515.5 L896.4 514.5 L901.4 513.5 L906.3 512.4 L911.2 511.4 L916.1 510.3 L921.0 509.3 L926.0 508.1 L930.9 507.0 L935.8 505.8 L940.8 504.6 L945.7 503.4 L950.6 502.2 L955.5 500.9 L960.5 499.6 L965.4 498.3 L970.3 497.0 L975.2 495.6 L980.1 494.2 L985.1 492.9 L990.0 491.5 L994.9 490.0 L999.9 488.6 L1004.8 487.2 L1009.7 485.7 L1014.6 484.3 L1019.5 482.8 L1024.5 481.3 L1029.4 479.8 L1034.3 478.3 L1039.2 476.8 L1044.2 475.3 L1049.1 473.8 L1054.0 472.3 L1059.0 470.8 L1063.9 469.2 L1068.8 467.7 L1073.7 466.1 L1078.7 464.6 L1083.6 463.1 L1088.5 461.5 L1088.5 483.9 L1083.6 484.8 L1078.7 485.7 L1073.7 486.7 L1068.8 487.6 L1063.9 488.6 L1059.0 489.5 L1054.0 490.5 L1049.1 491.4 L1044.2 492.4 L1039.2 493.3 L1034.3 494.3 L1029.4 495.3 L1024.5 496.3 L1019.5 497.3 L1014.6 498.3 L1009.7 499.3 L1004.8 500.3 L999.9 501.4 L994.9 502.4 L990.0 503.5 L985.1 504.6 L980.1 505.7 L975.2 506.8 L970.3 507.9 L965.4 509.0 L960.5 510.2 L955.5 511.4 L950.6 512.6 L945.7 513.8 L940.8 515.1 L935.8 516.3 L930.9 517.6 L926.0 519.0 L921.0 520.3 L916.1 521.7 L911.2 523.2 L906.3 524.6 L901.4 526.0 L896.4 527.5 L891.5 529.0 L886.6 530.5 L881.6 532.0 L876.7 533.6 L871.8 535.1 L866.9 536.7 L862.0 538.2 L857.0 539.8 L852.1 541.4 L847.2 543.0 L842.2 544.6 L837.3 546.2 L832.4 547.8 L827.5 549.4 L822.5 551.0 L817.6 552.6 L812.7 554.2 L807.8 555.8 L802.9 557.5 L797.9 559.1 L793.0 560.7Z" fill="#ff7f0e" fill-opacity="0.5" stroke="#ff7f0e" stroke-opacity="0.5" stroke-width="2.6" stroke-linejoin="round"/>
<line x1="793.00" y1="864" x2="793.00" y2="232" stroke="#ff0000" stroke-width="8.33"/>
<line x1="745.72" y1="864" x2="745.72" y2="232" stroke="#ffa500" stroke-width="5.85" stroke-dasharray="20.56 8.89"/>
<line x1="840.28" y1="864" x2="840.28" y2="232" stroke="#ffa500" stroke-width="5.85" stroke-dasharray="20.56 8.89"/>
</g>
<text x="201.50" y="903.7" font-size="38.89" text-anchor="middle">0.0</text>
<text x="437.90" y="903.7" font-size="38.89" text-anchor="middle">0.2</text>
<text x="674.30" y="903.7" font-size="38.89" text-anchor="middle">0.4</text>
<text x="911.70" y="903.7" font-size="38.89" text-anchor="middle">0.6</text>
<text x="1147.10" y="903.7" font-size="38.89" text-anchor="middle">0.8</text>
<text x="1384.40" y="903.7" font-size="38.89" text-anchor="middle">1.0</text>
<text x="133.6" y="843.60" font-size="38.89" text-anchor="end">0.0</text>
<text x="133.6" y="760.60" font-size="38.89" text-anchor="end">0.5</text>
<text x="132.4" y="677.60" font-size="38.89" text-anchor="end">1.0</text>
<text x="132.4" y="594.60" font-size="38.89" text-anchor="end">1.5</text>
<text x="133.6" y="511.60" font-size="38.89" text-anchor="end">2.0</text>
<text x="133.6" y="428.60" font-size="38.89" text-anchor="end">2.5</text>
<text x="133.6" y="345.60" font-size="38.89" text-anchor="end">3.0</text>
<text x="133.6" y="262.60" font-size="38.89" text-anchor="end">3.5</text>
<text x="793" y="954" font-size="41.67" text-anchor="middle">x</text>
<text transform="translate(50.5 550.7) rotate(-90)" font-size="41.67" text-anchor="middle">y</text>
<text x="288.1" y="62" font-size="44.44">Bayesian </text>
<text x="503.7" y="62" font-size="44.44" class="it">R</text>
<text x="537.5" y="45.3" font-size="31.108">2</text>
<text x="573.3" y="62" font-size="44.44" letter-spacing="-0.06">on fit data = 0.79 (std = 0.0096)</text>
<text x="501.9" y="164.1" font-size="44.44">Discontinuity at threshold = 0.47,</text>
<text x="692.8" y="216.0" font-size="44.44" class="it">CI</text>
<text x="737" y="222.6" font-size="31.108">94%</text>
<text x="806.3" y="216.0" font-size="44.44">[0.29, 0.66]</text>
<circle cx="206.6" cy="279.3" r="8.36" fill="#d3d3d3" stroke="#fff" stroke-width="1.58"/>
<circle cx="206.6" cy="329.4" r="8.36" fill="#000" stroke="#fff" stroke-width="1.58"/>
<line x1="173" y1="375.8" x2="239.2" y2="375.8" stroke="#ff7f0e" stroke-width="4.17" stroke-linecap="round"/>
<line x1="173" y1="424.9" x2="239.2" y2="424.9" stroke="#ff0000" stroke-width="8.33" stroke-linecap="round"/>
<line x1="173" y1="474.8" x2="239.2" y2="474.8" stroke="#ffa500" stroke-width="5.56" stroke-dasharray="20.56 8.89"/>
<text x="265.8" y="287.7" font-size="33.33">excluded data</text>
<text x="265.8" y="337.6" font-size="33.33">fit data</text>
<text x="265.8" y="387.6" font-size="33.33">Posterior mean</text>
<text x="265.8" y="437.3" font-size="33.33">treatment threshold</text>
<text x="265.8" y="487.1" font-size="33.33">donut boundary</text>
</svg></body></html>
